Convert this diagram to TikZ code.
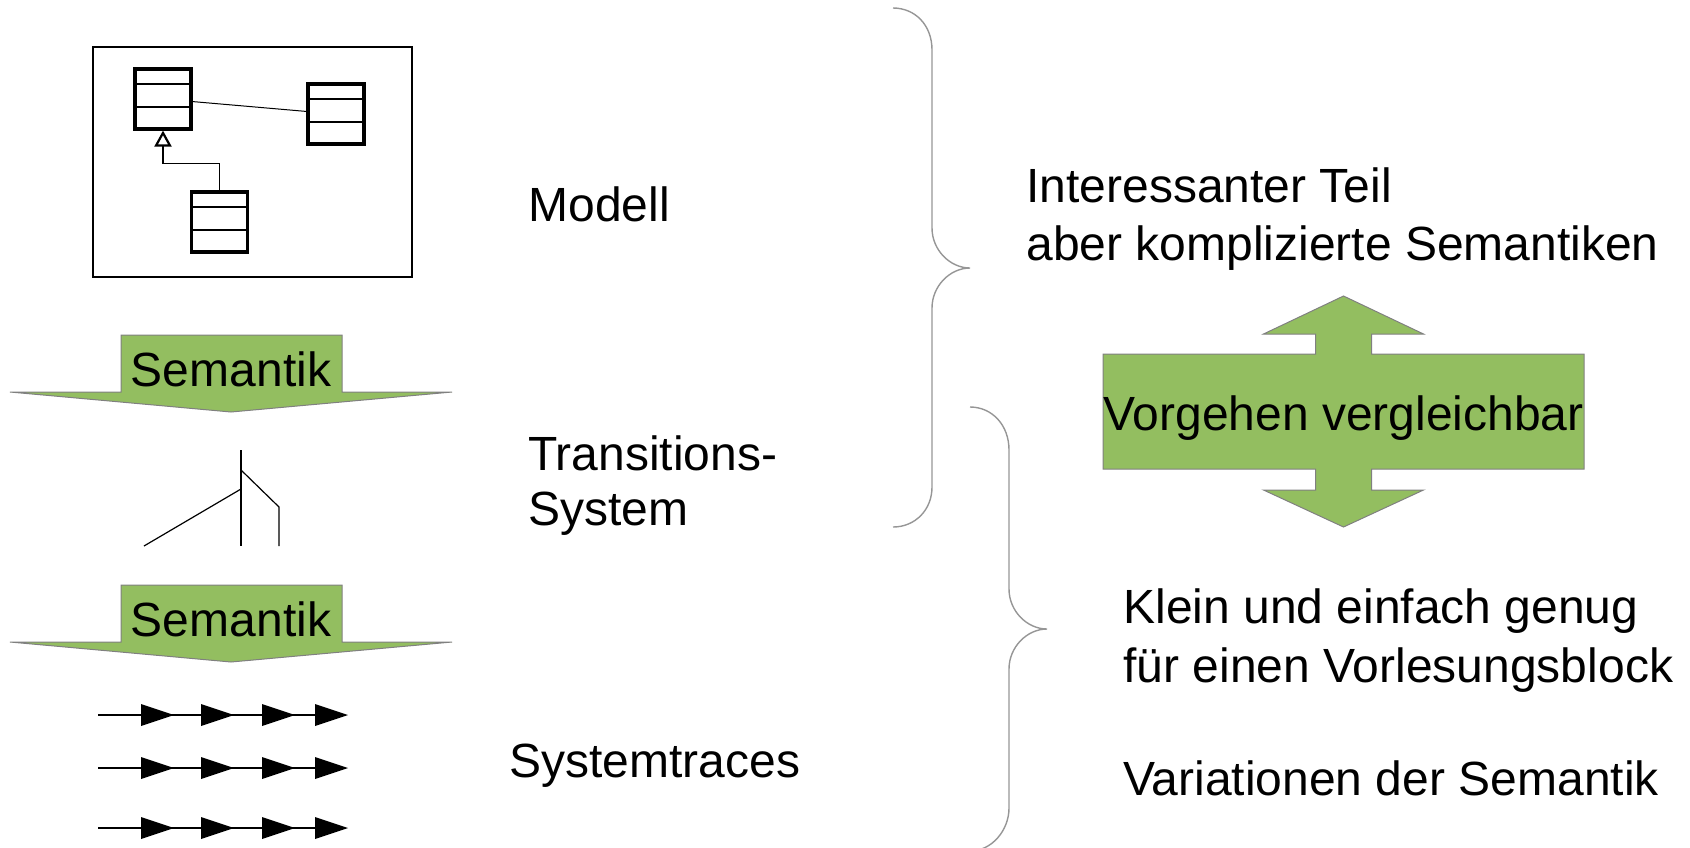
\documentclass[tikz,border=0pt]{standalone}
\usepackage{xcolor}
\usepackage{fontspec}
\setmainfont{Liberation Sans}
\usepackage{tikz}
\usetikzlibrary{arrows.meta, positioning}

\definecolor{semgreen}{RGB}{147,190,96}
\definecolor{rimgrey}{RGB}{128,128,128}
\definecolor{bracegrey}{RGB}{150,150,150}

\begin{document}
\begin{tikzpicture}[x=0.5pt, y=-0.5pt,
				txt/.style={anchor=base west, inner sep=0pt, font=\fontsize{24}{28}\selectfont},
				umlclass/.style={draw, line width=1.6pt, minimum width=28pt, minimum height=30pt, inner sep=0pt,
					path picture={
						\draw[line width=1pt] ([yshift=-7.5pt]path picture bounding box.north west) -- ([yshift=-7.5pt]path picture bounding box.north east);
						\draw[line width=1pt] ([yshift=-19pt]path picture bounding box.north west) -- ([yshift=-19pt]path picture bounding box.north east);}},
				greenarrow/.style={fill=semgreen, draw=rimgrey, line width=0.5pt},
				brace/.style={draw=bracegrey, line width=0.7pt}]
				\useasboundingbox (0,0) rectangle (1690,847);
				% class diagram
				\node at (252.5,162) (frame) [draw, line width=1.1pt, minimum width=159.5pt, minimum height=115pt] {};
				\node at (163,99) (c1) [umlclass] {};
				\node at (336,114) (c2) [umlclass] {};
				\node at (219.5,222) (c3) [umlclass] {};
				\draw[line width=0.5pt] (c1) -- (c2);
				\draw[line width=0.6pt, -{Triangle[open, length=8pt, width=8.5pt, line width=1.1pt]}] (c3.north) -- ++(0,-27) -| (c1.south);
				% semantik arrows
				\foreach \dy/\nm in {0/sem1, 250/sem2} {
					\draw[greenarrow] (121,335+\dy) -- (342,335+\dy) -- (342,392+\dy) -- (452,392+\dy) -- (231,412+\dy) -- (10,392+\dy) -- (121,392+\dy) -- cycle;
					\node at (231,386+\dy) (\nm) [anchor=base, inner sep=0pt, font=\fontsize{24}{28}\selectfont] {Semantik};
				}
				% transition system
				\draw[line width=0.6pt] (241,450) -- (241,546);
				\draw[line width=0.6pt] (241,470) -- (279,507) -- (279,546);
				\draw[line width=0.6pt] (241,489) -- (144,546);
				% traces
				\foreach \ty in {715,768,828} {
					\draw[line width=0.6pt] (98,\ty) -- (315,\ty);
					\foreach \tx in {141,201,262,315}
						\fill (\tx,\ty-11) -- (\tx+33,\ty) -- (\tx,\ty+11) -- cycle;
				}
				% labels
				\node at (528,221) (modell) [txt] {Modell};
				\node at (528,470) (trans) [txt] {Transitions-};
				\node at (528,525) (system) [txt] {System};
				\node at (509,777) (traces) [txt] {Systemtraces};
				% braces
				\draw[brace] (893,8) .. controls (915,8) and (932,25) .. (932,50) -- (932,228)
					.. controls (932,250) and (950,268) .. (970,268)
					.. controls (950,268) and (932,286) .. (932,308) -- (932,487)
					.. controls (932,510) and (915,527) .. (893,527);
				\draw[brace] (970,407) .. controls (992,407) and (1009,425) .. (1009,450) -- (1009,589)
					.. controls (1009,611) and (1027,629) .. (1047,629)
					.. controls (1027,629) and (1009,647) .. (1009,669) -- (1009,808)
					.. controls (1009,830) and (992,851) .. (970,851);
				% right side
				\node at (1026,202) (inter) [txt] {Interessanter Teil};
				\node at (1026,260) (kompl) [txt] {aber komplizierte Semantiken};
				\draw[greenarrow] (1103,354) -- (1315.5,354) -- (1315.5,334) -- (1263.5,334) -- (1343.5,296) -- (1423.5,334) -- (1371.5,334) -- (1371.5,354)
					-- (1584,354) -- (1584,469) -- (1371.5,469) -- (1371.5,490) -- (1423.5,490) -- (1343.5,527) -- (1263.5,490) -- (1315.5,490) -- (1315.5,469)
					-- (1103,469) -- cycle;
				\node at (1343.5,430) (vorg) [anchor=base, inner sep=0pt, font=\fontsize{24}{28}\selectfont] {Vorgehen vergleichbar};
				\node at (1123,623) (klein) [txt] {Klein und einfach genug};
				\node at (1123,682) (fuer) [txt] {für einen Vorlesungsblock};
				\node at (1123,795) (var) [txt] {Variationen der Semantik};
			\end{tikzpicture}
\end{document}
